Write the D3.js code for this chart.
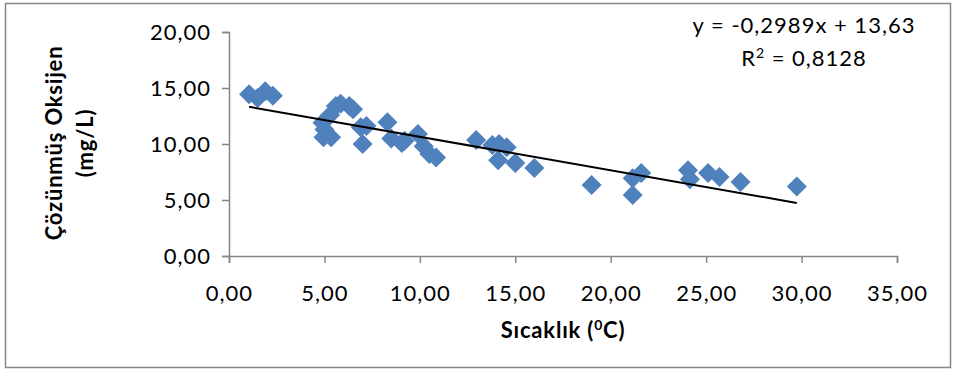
<!DOCTYPE html>
<html>
<head>
<meta charset="utf-8">
<script src="https://cdn.jsdelivr.net/npm/d3@7"></script>
<style>
  html, body { margin: 0; padding: 0; background: #fff; }
  svg { display: block; }
  text { font-family: Lato, "Open Sans", sans-serif; fill: #000; }
</style>
</head>
<body>
<svg id="chart" width="957" height="379"></svg>
<script>
// Temperature (°C) and dissolved oxygen (mg/L) measurements
const temperature = [1.05, 1.5, 1.9, 2.3,
  4.9, 5.0, 4.95, 5.35, 5.3, 5.6, 5.85, 6.3, 6.5, 6.9, 7.0, 7.2,
  8.3, 8.5, 9.05, 9.2, 9.9, 10.2, 10.5, 10.85,
  12.95, 13.8, 14.15, 14.55, 14.1, 15.0, 16.0,
  19.0, 21.15, 21.6, 21.15,
  24.05, 24.15, 25.1, 25.7, 26.8, 29.75];
const oxygen = [14.45, 14.1, 14.7, 14.3,
  11.9, 11.3, 10.6, 10.6, 12.6, 13.4, 13.6, 13.4, 13.1, 11.5, 10.0, 11.6,
  11.95, 10.5, 10.1, 10.3, 10.9, 9.8, 9.1, 8.8,
  10.35, 9.9, 10.0, 9.7, 8.55, 8.3, 7.85,
  6.35, 6.95, 7.4, 5.45,
  7.65, 6.85, 7.4, 7.05, 6.6, 6.2];

// Linear trendline coefficients and fit quality
const slope = -0.2989;
const intercept = 13.63;
const rSquared = "0,8128";

// Axis ticks
const xTicks = [0, 5, 10, 15, 20, 25, 30, 35];
const yTicks = [0, 5, 10, 15, 20];

const fmt = v => v.toFixed(2).replace(".", ",");

const svg = d3.select("#chart");

// Chart frame
svg.append("rect")
  .attr("x", 5.5).attr("y", 3.5)
  .attr("width", 945).attr("height", 364)
  .attr("fill", "#fff").attr("stroke", "#868686").attr("stroke-width", 1.5);

const x = d3.scaleLinear().domain([0, 35]).range([229, 897]);
const y = d3.scaleLinear().domain([0, 20]).range([256, 32]);

const axisColor = "#868686";
const labelFont = 22;

// Y axis
const yAxis = svg.append("g")
  .attr("transform", `translate(${x(0)},0)`)
  .call(d3.axisLeft(y).tickValues(yTicks).tickFormat(fmt).tickSize(7).tickPadding(11));
// X axis
const xAxis = svg.append("g")
  .attr("transform", `translate(0,${y(0)})`)
  .call(d3.axisBottom(x).tickValues(xTicks).tickFormat(fmt).tickSize(7).tickPadding(22));

[yAxis, xAxis].forEach(g => {
  g.select(".domain").attr("stroke", axisColor).attr("stroke-width", 1.5);
  g.selectAll(".tick line").attr("stroke", axisColor).attr("stroke-width", 1.5);
  g.selectAll(".tick text")
    .attr("font-family", "Lato, 'Open Sans', sans-serif")
    .attr("font-size", labelFont)
    .attr("letter-spacing", 1)
    .attr("fill", "#000");
});

// Data markers (square diamonds)
const half = 10;
const diamond = `M0,${-half}L${half},0L0,${half}L${-half},0Z`;
svg.append("g")
  .selectAll("path")
  .data(temperature.map((t, i) => ({ t, o: oxygen[i] })))
  .join("path")
  .attr("d", diamond)
  .attr("transform", d => `translate(${x(d.t)},${y(d.o)})`)
  .attr("fill", "#4F81BD");

// Trendline over the data range
const xMin = d3.min(temperature), xMax = d3.max(temperature);
svg.append("line")
  .attr("x1", x(xMin)).attr("y1", y(slope * xMin + intercept))
  .attr("x2", x(xMax)).attr("y2", y(slope * xMax + intercept))
  .attr("stroke", "#000").attr("stroke-width", 2);

// Trendline equation
svg.append("text")
  .attr("x", 804).attr("y", 33)
  .attr("text-anchor", "middle")
  .attr("font-size", labelFont)
  .attr("letter-spacing", 1)
  .text(`y = ${String(slope).replace(".", ",")}x + ${String(intercept).replace(".", ",")}`);
const r2 = svg.append("text")
  .attr("x", 804).attr("y", 66)
  .attr("text-anchor", "middle")
  .attr("font-size", labelFont)
  .attr("letter-spacing", 1);
r2.append("tspan").text("R");
r2.append("tspan").attr("dy", -8).attr("font-size", 14).text("2");
r2.append("tspan").attr("dy", 8).text(` = ${rSquared}`);

// Axis titles
const yTitle = svg.append("text")
  .attr("transform", "translate(70,143) rotate(-90)")
  .attr("text-anchor", "middle")
  .attr("font-weight", "bold")
  .attr("font-size", 22)
  .attr("letter-spacing", 0.8);
yTitle.append("tspan").attr("x", 0).attr("dy", -8).text("Çözünmüş Oksijen");
yTitle.append("tspan").attr("x", 0).attr("dy", 31).text("(mg/L)");

const xTitle = svg.append("text")
  .attr("x", 563).attr("y", 338)
  .attr("text-anchor", "middle")
  .attr("font-weight", "bold")
  .attr("font-size", 22)
  .attr("letter-spacing", 0.8);
xTitle.append("tspan").text("Sıcaklık (");
xTitle.append("tspan").attr("dy", -8).attr("font-size", 14).text("0");
xTitle.append("tspan").attr("dy", 8).text("C)");
</script>
</body>
</html>
